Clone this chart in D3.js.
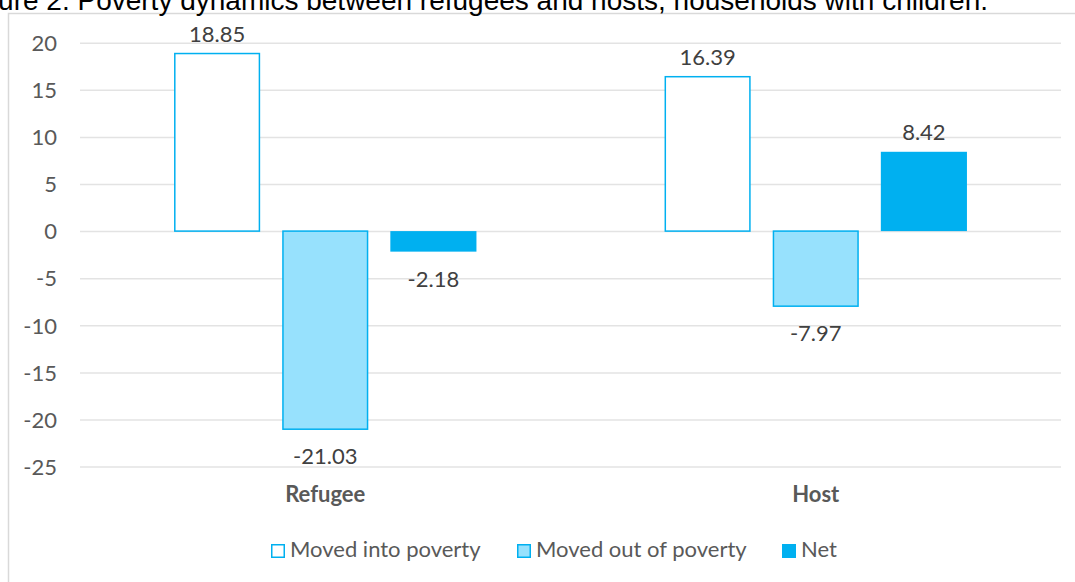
<!DOCTYPE html>
<html>
<head>
<meta charset="utf-8">
<script src="https://cdn.jsdelivr.net/npm/d3@7"></script>
<style>
  html, body { margin: 0; padding: 0; background: #fff; }
  svg { display: block; }
</style>
</head>
<body>
<svg id="chart" width="1075" height="582"></svg>
<script>
// Poverty dynamics, households with children
const groups = ["Refugee", "Host"];
const seriesNames = ["Moved into poverty", "Moved out of poverty", "Net"];
const movedInto = [18.85, 16.39];
const movedOut = [-21.03, -7.97];
const net = [-2.18, 8.42];
const yTicks = [20, 15, 10, 5, 0, -5, -10, -15, -20, -25];
const titleText = "Figure 2. Poverty dynamics between refugees and hosts, households with children.";

const seriesValues = [movedInto, movedOut, net];
const seriesStyle = [
  { fill: "#ffffff", stroke: "#00B0F0" },
  { fill: "#97E1FD", stroke: "#00B0F0" },
  { fill: "#00B0F0", stroke: "none" }
];

const svg = d3.select("#chart");
const font = "Lato, 'Open Sans', sans-serif";
// plain hyphen for negatives
const fmt2 = v => v.toFixed(2);
const fmt0 = v => String(v);

// outer chart frame (runs past the right and bottom edges)
svg.append("rect")
  .attr("x", 8.5).attr("y", 13.5)
  .attr("width", 1200).attr("height", 700)
  .attr("fill", "none").attr("stroke", "#d9d9d9").attr("stroke-width", 1.5);

// title, partly cut off at the top-left
svg.append("text")
  .attr("x", 988).attr("y", 10)
  .attr("text-anchor", "end")
  .attr("font-family", "'Liberation Sans', Arial, sans-serif")
  .attr("font-size", 28)
  .attr("fill", "#000")
  .text(titleText);

const left = 80, right = 1061;
const y = d3.scaleLinear().domain([-25, 20]).range([466.6, 42.7]);
const x0 = d3.scaleBand().domain(groups).range([left, right]).padding(0);
const groupWidth = 302.4;
const x1 = d3.scaleBand().domain(d3.range(seriesNames.length))
  .range([0, groupWidth]).paddingInner(0.2037).paddingOuter(0);

// gridlines + y tick labels
const yAxis = d3.axisLeft(y).tickValues(yTicks).tickFormat(fmt0)
  .tickSize(-(right - left)).tickPadding(23);
const gy = svg.append("g").attr("transform", `translate(${left},0)`).call(yAxis);
gy.select(".domain").remove();
gy.selectAll(".tick line").attr("stroke", "#e3e3e3").attr("stroke-width", 1.5);
gy.selectAll(".tick text")
  .attr("font-family", font).attr("font-size", 22).attr("fill", "#595959")
  .attr("dy", "0.35em");

// bars
const data = [];
groups.forEach((g, gi) => {
  seriesValues.forEach((vals, si) => data.push({ g, si, v: vals[gi] }));
});
const barX = d => x0(d.g) + (x0.bandwidth() - groupWidth) / 2 + x1(d.si);

svg.append("g").selectAll("rect").data(data).join("rect")
  .attr("x", d => barX(d) + (seriesStyle[d.si].stroke === "none" ? 0 : 0.75))
  .attr("width", d => x1.bandwidth() - (seriesStyle[d.si].stroke === "none" ? 0 : 1.5))
  .attr("y", d => Math.min(y(d.v), y(0)))
  .attr("height", d => Math.abs(y(d.v) - y(0)))
  .attr("fill", d => seriesStyle[d.si].fill)
  .attr("stroke", d => seriesStyle[d.si].stroke)
  .attr("stroke-width", 1.5);

// value labels
svg.append("g").selectAll("text").data(data).join("text")
  .attr("x", d => barX(d) + x1.bandwidth() / 2)
  .attr("y", d => d.v >= 0 ? y(d.v) - 12 : y(d.v) + 35)
  .attr("text-anchor", "middle")
  .attr("font-family", font).attr("font-size", 22).attr("fill", "#404040")
  .text(d => fmt2(d.v));

// category labels
const xAxis = d3.axisBottom(x0).tickSize(0).tickPadding(0);
const gx = svg.append("g").attr("transform", "translate(0,502)").call(xAxis);
gx.select(".domain").remove();
gx.selectAll(".tick text")
  .attr("dy", 0)
  .attr("font-family", font).attr("font-size", 22).attr("font-weight", "bold")
  .attr("fill", "#595959");

// legend
const legendX = [271, 517, 782];
const lg = svg.append("g").selectAll("g").data(seriesNames).join("g")
  .attr("transform", (d, i) => `translate(${legendX[i]},544)`);
lg.append("rect")
  .attr("x", (d, i) => seriesStyle[i].stroke === "none" ? 0 : 0.75)
  .attr("y", (d, i) => seriesStyle[i].stroke === "none" ? 0 : 0.75)
  .attr("width", (d, i) => seriesStyle[i].stroke === "none" ? 14 : 12.5)
  .attr("height", (d, i) => seriesStyle[i].stroke === "none" ? 14 : 12.5)
  .attr("fill", (d, i) => seriesStyle[i].fill)
  .attr("stroke", (d, i) => seriesStyle[i].stroke)
  .attr("stroke-width", 1.5);
lg.append("text")
  .attr("x", 19).attr("y", 12.5)
  .attr("font-family", font).attr("font-size", 22).attr("fill", "#595959")
  .text(d => d);
</script>
</body>
</html>
